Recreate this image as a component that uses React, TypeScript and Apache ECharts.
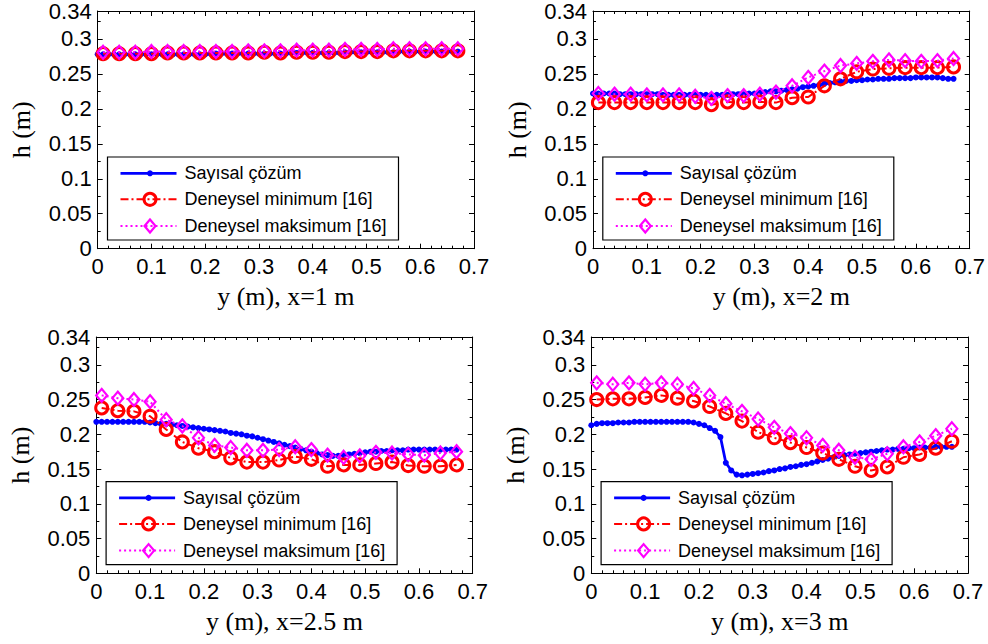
import React, { useEffect, useRef } from 'react';
import * as echarts from 'echarts';

// Numerical solution sample positions (m)
const numX = [0, 0.01, 0.02, 0.03, 0.04, 0.05, 0.06, 0.07, 0.08, 0.09, 0.1, 0.11, 0.12, 0.13, 0.14, 0.15, 0.16, 0.17, 0.18, 0.19, 0.2, 0.21, 0.22, 0.23, 0.24, 0.25, 0.26, 0.27, 0.28, 0.29, 0.3, 0.31, 0.32, 0.33, 0.34, 0.35, 0.36, 0.37, 0.38, 0.39, 0.4, 0.41, 0.42, 0.43, 0.44, 0.45, 0.46, 0.47, 0.48, 0.49, 0.5, 0.51, 0.52, 0.53, 0.54, 0.55, 0.56, 0.57, 0.58, 0.59, 0.6, 0.61, 0.62, 0.63, 0.64, 0.65, 0.66, 0.67];
// Experimental sample positions (m)
const expX = [0.01, 0.04, 0.07, 0.1, 0.13, 0.16, 0.19, 0.22, 0.25, 0.28, 0.31, 0.34, 0.37, 0.4, 0.43, 0.46, 0.49, 0.52, 0.55, 0.58, 0.61, 0.64, 0.67];

// x = 1 m
const num1 = [0.278, 0.278, 0.278, 0.278, 0.278, 0.278, 0.278, 0.278, 0.278, 0.278, 0.278, 0.278, 0.278, 0.278, 0.278, 0.278, 0.278, 0.278, 0.278, 0.278, 0.278, 0.279, 0.279, 0.279, 0.279, 0.279, 0.279, 0.279, 0.279, 0.279, 0.279, 0.279, 0.279, 0.279, 0.279, 0.279, 0.28, 0.28, 0.28, 0.28, 0.28, 0.28, 0.28, 0.28, 0.28, 0.28, 0.281, 0.281, 0.281, 0.281, 0.281, 0.281, 0.281, 0.281, 0.281, 0.281, 0.282, 0.282, 0.282, 0.282, 0.282, 0.282, 0.282, 0.282, 0.282, 0.282, 0.282, 0.282];
const min1 = [0.279, 0.279, 0.279, 0.279, 0.28, 0.28, 0.28, 0.28, 0.28, 0.28, 0.281, 0.28, 0.281, 0.281, 0.281, 0.282, 0.282, 0.282, 0.283, 0.283, 0.283, 0.283, 0.283];
const max1 = [0.281, 0.281, 0.281, 0.282, 0.282, 0.282, 0.282, 0.282, 0.282, 0.283, 0.283, 0.283, 0.284, 0.284, 0.284, 0.285, 0.285, 0.285, 0.286, 0.286, 0.286, 0.286, 0.286];

// x = 2 m
const num2 = [0.222, 0.222, 0.222, 0.222, 0.222, 0.221, 0.221, 0.221, 0.221, 0.221, 0.221, 0.221, 0.221, 0.22, 0.22, 0.22, 0.22, 0.22, 0.22, 0.22, 0.22, 0.22, 0.22, 0.22, 0.22, 0.22, 0.221, 0.221, 0.221, 0.222, 0.222, 0.223, 0.224, 0.225, 0.225, 0.226, 0.227, 0.228, 0.229, 0.231, 0.232, 0.233, 0.234, 0.236, 0.237, 0.238, 0.239, 0.24, 0.24, 0.241, 0.241, 0.242, 0.242, 0.243, 0.243, 0.243, 0.244, 0.244, 0.244, 0.244, 0.245, 0.245, 0.245, 0.245, 0.245, 0.244, 0.243, 0.243];
const min2 = [0.209, 0.209, 0.209, 0.209, 0.209, 0.209, 0.209, 0.206, 0.21, 0.209, 0.21, 0.209, 0.216, 0.217, 0.233, 0.243, 0.253, 0.257, 0.258, 0.259, 0.259, 0.259, 0.26];
const max2 = [0.222, 0.221, 0.221, 0.22, 0.22, 0.22, 0.218, 0.215, 0.219, 0.219, 0.221, 0.224, 0.233, 0.245, 0.254, 0.262, 0.265, 0.268, 0.27, 0.269, 0.268, 0.269, 0.272];

// x = 2.5 m
const num3 = [0.218, 0.218, 0.218, 0.218, 0.218, 0.218, 0.218, 0.218, 0.218, 0.218, 0.217, 0.216, 0.215, 0.215, 0.214, 0.213, 0.212, 0.211, 0.21, 0.209, 0.208, 0.207, 0.206, 0.205, 0.204, 0.202, 0.201, 0.2, 0.198, 0.197, 0.195, 0.193, 0.191, 0.189, 0.187, 0.185, 0.183, 0.181, 0.179, 0.177, 0.175, 0.173, 0.171, 0.17, 0.169, 0.169, 0.17, 0.171, 0.172, 0.173, 0.174, 0.175, 0.175, 0.176, 0.176, 0.177, 0.177, 0.177, 0.178, 0.178, 0.178, 0.178, 0.178, 0.178, 0.178, 0.178, 0.178, 0.178];
const min3 = [0.238, 0.234, 0.233, 0.226, 0.207, 0.189, 0.18, 0.175, 0.166, 0.16, 0.16, 0.163, 0.168, 0.164, 0.154, 0.156, 0.156, 0.158, 0.16, 0.155, 0.154, 0.154, 0.156];
const max3 = [0.256, 0.252, 0.25, 0.247, 0.221, 0.212, 0.195, 0.184, 0.181, 0.177, 0.177, 0.178, 0.182, 0.178, 0.17, 0.167, 0.169, 0.174, 0.173, 0.171, 0.17, 0.173, 0.175];

// x = 3 m
const num4 = [0.213, 0.215, 0.216, 0.216, 0.216, 0.217, 0.217, 0.217, 0.218, 0.218, 0.218, 0.218, 0.218, 0.218, 0.218, 0.218, 0.218, 0.218, 0.218, 0.217, 0.215, 0.213, 0.209, 0.205, 0.196, 0.159, 0.148, 0.142, 0.141, 0.142, 0.143, 0.144, 0.145, 0.147, 0.148, 0.15, 0.151, 0.153, 0.154, 0.156, 0.157, 0.159, 0.161, 0.163, 0.165, 0.167, 0.169, 0.17, 0.171, 0.172, 0.173, 0.174, 0.175, 0.176, 0.177, 0.178, 0.178, 0.179, 0.179, 0.18, 0.18, 0.181, 0.181, 0.181, 0.182, 0.182, 0.182, 0.182];
const min4 = [0.25, 0.251, 0.251, 0.253, 0.256, 0.252, 0.248, 0.24, 0.23, 0.219, 0.203, 0.195, 0.188, 0.181, 0.173, 0.164, 0.154, 0.148, 0.153, 0.167, 0.171, 0.18, 0.19];
const max4 = [0.274, 0.272, 0.274, 0.272, 0.274, 0.272, 0.266, 0.256, 0.244, 0.233, 0.222, 0.21, 0.201, 0.195, 0.184, 0.177, 0.167, 0.164, 0.172, 0.182, 0.189, 0.198, 0.208];

const titles = ['y (m), x=1 m', 'y (m), x=2 m', 'y (m), x=2.5 m', 'y (m), x=3 m'];
const numSeries = [num1, num2, num3, num4];
const minSeries = [min1, min2, min3, min4];
const maxSeries = [max1, max2, max3, max4];
const yTitle = 'h (m)';
const legendNames = ['Sayısal çözüm', 'Deneysel minimum [16]', 'Deneysel maksimum [16]'];

const BLUE = '#0000ff';
const RED = '#ff0000';
const MAG = '#ff00ff';
const SANS = '"Liberation Sans", Arial, sans-serif';
const SERIF = '"Liberation Serif", "Times New Roman", serif';

const grids = [
  { left: 97.7, top: 11, width: 376.3, height: 237.7 },
  { left: 593, top: 11, width: 376.7, height: 237.7 },
  { left: 96.3, top: 337, width: 376.4, height: 236.3 },
  { left: 591.3, top: 337, width: 376.7, height: 236.3 },
];

function buildOption() {
  const xAxis: any[] = [];
  const yAxis: any[] = [];
  const series: any[] = [];
  const graphic: any[] = [];
  const tickStyle = { color: '#000', width: 1 };

  grids.forEach((g, p) => {
    const common = {
      gridIndex: p,
      type: 'value',
      axisLine: { show: true, onZero: false, lineStyle: tickStyle },
      splitLine: { show: false },
    };
    xAxis.push({
      ...common,
      position: 'bottom',
      min: 0,
      max: 0.7,
      interval: 0.1,
      axisTick: { show: true, inside: true, length: 5, lineStyle: tickStyle },
      minorTick: { show: true, splitNumber: 5, length: 3, lineStyle: tickStyle },
      axisLabel: { color: '#000', fontSize: 22, fontFamily: SANS, margin: 7 },
      name: titles[p],
      nameLocation: 'middle',
      nameGap: 35,
      nameTextStyle: { color: '#000', fontSize: 26, fontFamily: SERIF },
    });
    xAxis.push({
      ...common,
      position: 'top',
      min: 0,
      max: 0.7,
      interval: 0.1,
      axisTick: { show: true, inside: true, length: 5, lineStyle: tickStyle },
      minorTick: { show: true, splitNumber: 5, length: 3, lineStyle: tickStyle },
      axisLabel: { show: false },
    });
    yAxis.push({
      ...common,
      position: 'left',
      min: 0,
      max: 0.34,
      interval: 0.05,
      axisTick: { show: true, inside: true, length: 5, lineStyle: tickStyle },
      minorTick: { show: true, splitNumber: 2, length: 3, lineStyle: tickStyle },
      axisLabel: { color: '#000', fontSize: 22, fontFamily: SANS, margin: 6 },
      name: yTitle,
      nameLocation: 'middle',
      nameGap: 63,
      nameTextStyle: { color: '#000', fontSize: 26, fontFamily: SERIF },
    });
    yAxis.push({
      ...common,
      position: 'right',
      min: 0,
      max: 0.34,
      interval: 0.05,
      axisTick: { show: true, inside: true, length: 5, lineStyle: tickStyle },
      minorTick: { show: true, splitNumber: 2, length: 3, lineStyle: tickStyle },
      axisLabel: { show: false },
    });

    const xi = 2 * p;
    const yi = 2 * p;
    series.push({
      type: 'line',
      name: legendNames[0],
      xAxisIndex: xi,
      yAxisIndex: yi,
      data: numX.map((x, i) => [x, numSeries[p][i]]),
      symbol: 'circle',
      symbolSize: 6,
      showAllSymbol: true,
      lineStyle: { color: BLUE, width: 2.8 },
      itemStyle: { color: BLUE },
      z: 2,
    });
    series.push({
      type: 'line',
      name: legendNames[1],
      xAxisIndex: xi,
      yAxisIndex: yi,
      data: expX.map((x, i) => [x, minSeries[p][i]]),
      symbol: 'circle',
      symbolSize: 12,
      showAllSymbol: true,
      lineStyle: { color: RED, width: 2, type: [8, 3, 2, 3] },
      itemStyle: { color: 'rgba(0,0,0,0)', borderColor: RED, borderWidth: 3 },
      z: 3,
    });
    series.push({
      type: 'line',
      name: legendNames[2],
      xAxisIndex: xi,
      yAxisIndex: yi,
      data: expX.map((x, i) => [x, maxSeries[p][i]]),
      symbol: 'diamond',
      symbolSize: [11, 13],
      showAllSymbol: true,
      lineStyle: { color: MAG, width: 2, type: [2, 3] },
      itemStyle: { color: 'rgba(0,0,0,0)', borderColor: MAG, borderWidth: 2.2 },
      z: 4,
    });

    // legend box
    const bx = g.left + 9.8;
    const by = g.top + g.height - 8.7 - 83;
    const rows = [16.3, 42.3, 69];
    const children: any[] = [
      { type: 'rect', shape: { x: 0, y: 0, width: 291, height: 83 }, style: { fill: '#fff', stroke: '#000', lineWidth: 1.2 } },
      { type: 'line', shape: { x1: 13, y1: rows[0], x2: 69, y2: rows[0] }, style: { stroke: BLUE, lineWidth: 2.8 } },
      { type: 'circle', shape: { cx: 42.5, cy: rows[0], r: 3 }, style: { fill: BLUE } },
      { type: 'line', shape: { x1: 13, y1: rows[1], x2: 69, y2: rows[1] }, style: { stroke: RED, lineWidth: 2, lineDash: [8, 3, 2, 3] } },
      { type: 'circle', shape: { cx: 42.5, cy: rows[1], r: 6 }, style: { fill: 'none', stroke: RED, lineWidth: 3 } },
      { type: 'line', shape: { x1: 13, y1: rows[2], x2: 69, y2: rows[2] }, style: { stroke: MAG, lineWidth: 2, lineDash: [2, 3] } },
      { type: 'polygon', shape: { points: [[42.5, rows[2] - 6.5], [48, rows[2]], [42.5, rows[2] + 6.5], [37, rows[2]]] }, style: { fill: 'none', stroke: MAG, lineWidth: 2.2 } },
    ];
    legendNames.forEach((t, k) => {
      children.push({
        type: 'text',
        x: 77,
        y: rows[k],
        style: { text: t, fill: '#000', font: `18px ${SANS}`, textVerticalAlign: 'middle', verticalAlign: 'middle' },
      });
    });
    graphic.push({ type: 'group', x: bx, y: by, z: 100, children });
  });

  return {
    animation: false,
    backgroundColor: '#fff',
    grid: grids.map((g) => ({ ...g, containLabel: false })),
    xAxis,
    yAxis,
    series,
    graphic,
  };
}

export default function App() {
  const ref = useRef<HTMLDivElement>(null);
  useEffect(() => {
    if (!ref.current) return;
    const chart = echarts.init(ref.current, undefined, { renderer: 'svg' });
    chart.setOption(buildOption() as any);
    return () => chart.dispose();
  }, []);
  return <div ref={ref} style={{ position: 'fixed', left: 0, top: 0, width: 988, height: 644, background: '#fff' }} />;
}
